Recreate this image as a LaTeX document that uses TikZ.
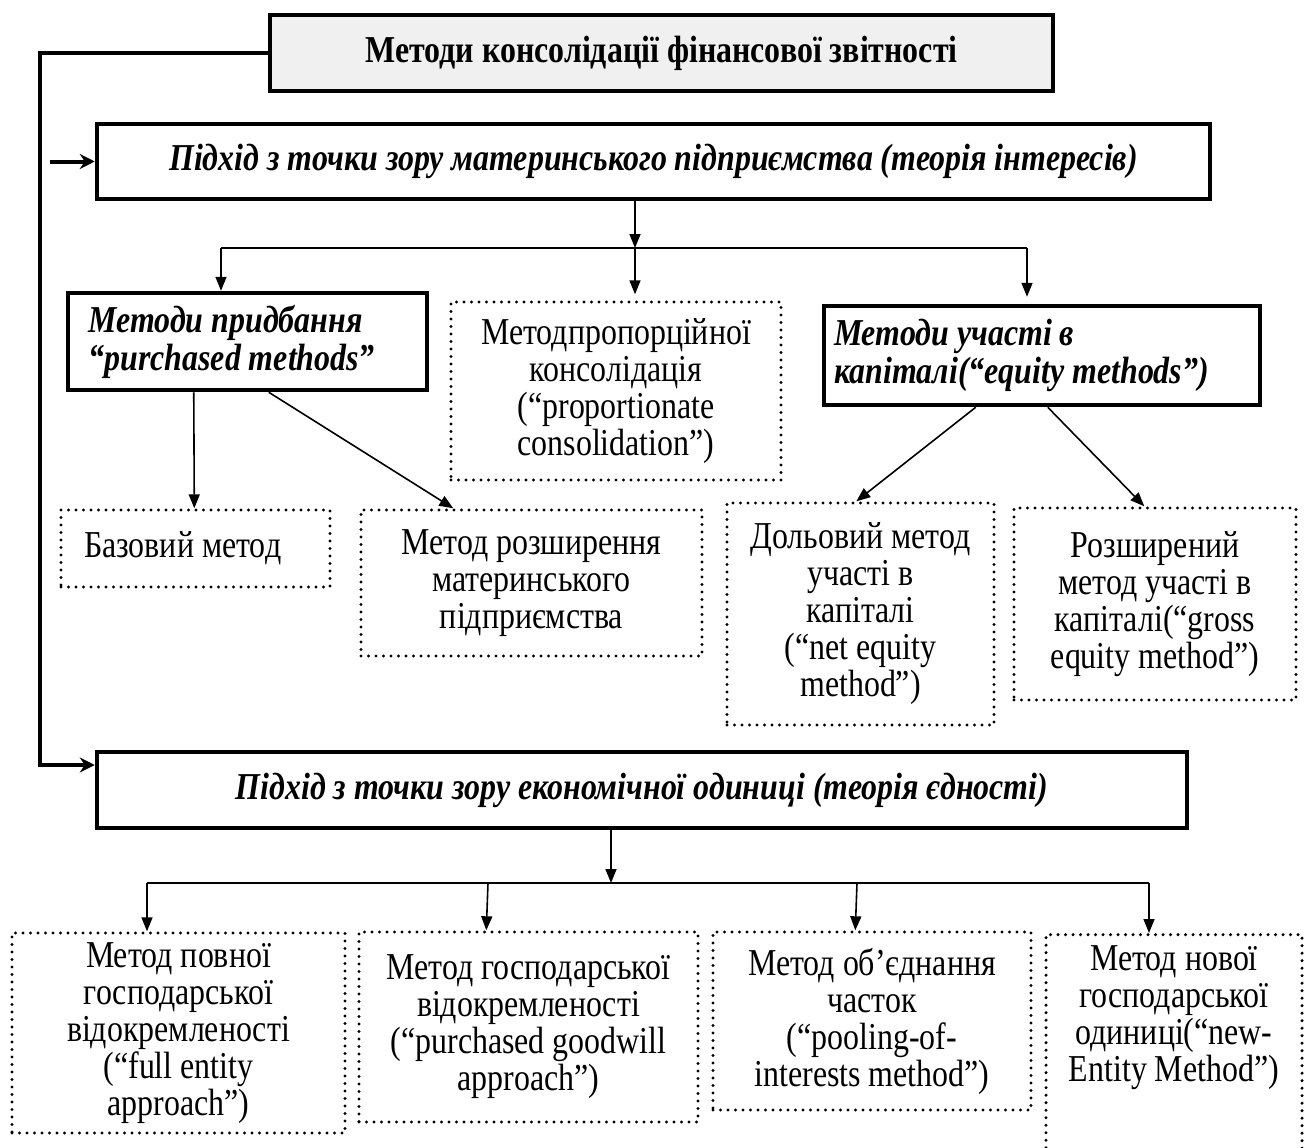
\documentclass[tikz,border=0pt]{standalone}
\usepackage{fontspec}
\setmainfont{Liberation Serif}[FakeStretch=0.84]
\usetikzlibrary{arrows.meta,calc}
\begin{document}
\begin{tikzpicture}[x=1pt,y=-1pt,
  thickbox/.style={draw, line width=4.5pt, inner sep=0pt, font=\fontsize{38}{37}\selectfont\bfseries\itshape},
  hbox/.style={draw, line width=4.5pt, inner sep=0pt, align=flush left, font=\fontsize{38}{38}\selectfont\bfseries\itshape},
  dbox/.style={draw, line width=3.4pt, dash pattern=on 0pt off 7.5pt, line cap=round, inner sep=0pt, align=center, font=\fontsize{38}{37}\selectfont},
  txt/.style={inner sep=0pt, align=center, font=\fontsize{38}{37}\selectfont},
  conn/.style={line width=1.6pt, -{Triangle[length=14pt,width=11pt]}},
  plainline/.style={line width=1.6pt},
  thickarr/.style={line width=4pt, -{Stealth[length=15pt,width=15pt,inset=5pt]}}
]
\useasboundingbox (0,0) rectangle (1310,1148);

% top level
\node[draw, line width=4.5pt, fill=black!6, inner sep=0pt, minimum width=783pt, minimum height=76pt,
      font=\fontsize{38}{37}\selectfont\bfseries] (top) at (661.5,53) {Методи консолідації фінансової звітності};
\node[thickbox, minimum width=1113pt, minimum height=75pt] (box2) at (653.5,161.5)
  {Підхід з точки зору материнського підприємства (теорія інтересів)};

% second level
\node[hbox, minimum width=359pt, minimum height=97pt, text width=318pt] (purch) at (247.5,341.5)
  {Методи придбання\\“purchased methods”};
\node[dbox, minimum width=330pt, minimum height=178pt] (prop) at (616,391)
  {Методпропорційної\\консолідація\\(“proportionate\\consolidation”)};
\node[hbox, minimum width=436pt, minimum height=99pt, text width=416pt] (equity) at (1042,355.5)
  {Методи участі в\\капіталі(“equity methods”)};

% third level
\node[dbox, minimum width=269pt, minimum height=77pt, text width=223pt, align=flush left] (base) at (195.5,548.5) {Базовий метод};
\node[dbox, minimum width=341pt, minimum height=146pt] (ext) at (531.5,583)
  {Метод розширення\\материнського\\підприємства};
\node[dbox, minimum width=267pt, minimum height=222pt] (dol) at (860.5,614)
  {Дольовий метод\\участі в\\капіталі\\(“net equity\\method”)};
\node[dbox, minimum width=282pt, minimum height=192pt] (roz) at (1155,604)
  {Розширений\\метод участі в\\капіталі(“gross\\equity method”)};

% economic unit
\node[thickbox, minimum width=1090pt, minimum height=76pt] (box3) at (642,790)
  {Підхід з точки зору економічної одиниці (теорія єдності)};

\node[dbox, minimum width=333pt, minimum height=200pt] (b1) at (178.5,1033)
  {Метод повної\\господарської\\відокремленості\\(“full entity\\approach”)};
\node[dbox, minimum width=339pt, minimum height=190pt] (b2) at (528.5,1027)
  {Метод господарської\\відокремленості\\(“purchased goodwill\\approach”)};
\node[dbox, minimum width=318pt, minimum height=178pt] (b3) at (872,1021)
  {Метод об’єднання\\часток\\(“pooling-of-\\interests method”)};
\node[dbox, minimum width=256pt, minimum height=280pt, anchor=north] (b4) at (1174,933) {};
\node[txt] (b4t) at (1174,1018) {Метод нової\\господарської\\одиниці(“new-\\Entity Method”)};

% left thick connector
\coordinate (lt) at (40,53);
\coordinate (lb) at (40,765);
\draw[thickarr] (top.west) -- (lt) -- (lb) -- (lb -| box3.west);
\coordinate (a2) at (50,161.5);
\draw[thickarr] (a2) -- (a2 -| box2.west);

% branches from box2
\coordinate (j1) at (635,248);
\coordinate (bl1) at (221,248);
\coordinate (br1) at (1027,248);
\draw[conn] (box2.south -| j1) -- (j1);
\draw[plainline] (bl1) -- (br1);
\draw[conn] (bl1) -- (bl1 |- purch.north);
\draw[conn] (j1) -- ($(j1 |- prop.north)+(0,-6)$);
\draw[conn] (br1) -- ($(br1 |- equity.north)+(0,-7)$);

% from purchased methods
\draw[conn] ($(purch.south west)+(128,0)$) -- ($(base.north west)+(135,0)$);
\draw[conn] ($(purch.south west)+(203,0)$) -- ($(ext.north west)+(94,0)$);

% from equity methods
\draw[conn] ($(equity.south west)+(154,0)$) -- ($(dol.north west)+(131,0)$);
\draw[conn] ($(equity.south west)+(226,0)$) -- ($(roz.north west)+(132,0)$);

% branches from box3
\coordinate (j2) at (611,883);
\coordinate (bl2) at (147,883);
\coordinate (br2) at (1149,883);
\draw[conn] (box3.south -| j2) -- (j2);
\draw[plainline] (bl2) -- (br2);
\draw[conn] (bl2) -- (bl2 |- b1.north);
\draw[conn] ($(bl2)+(341,0)$) -- ($(b2.north west)+(129,0)$);
\draw[conn] ($(bl2)+(710,0)$) -- ($(b3.north west)+(144,0)$);
\draw[conn] (br2) -- (br2 |- b4.north);
\end{tikzpicture}
\end{document}
